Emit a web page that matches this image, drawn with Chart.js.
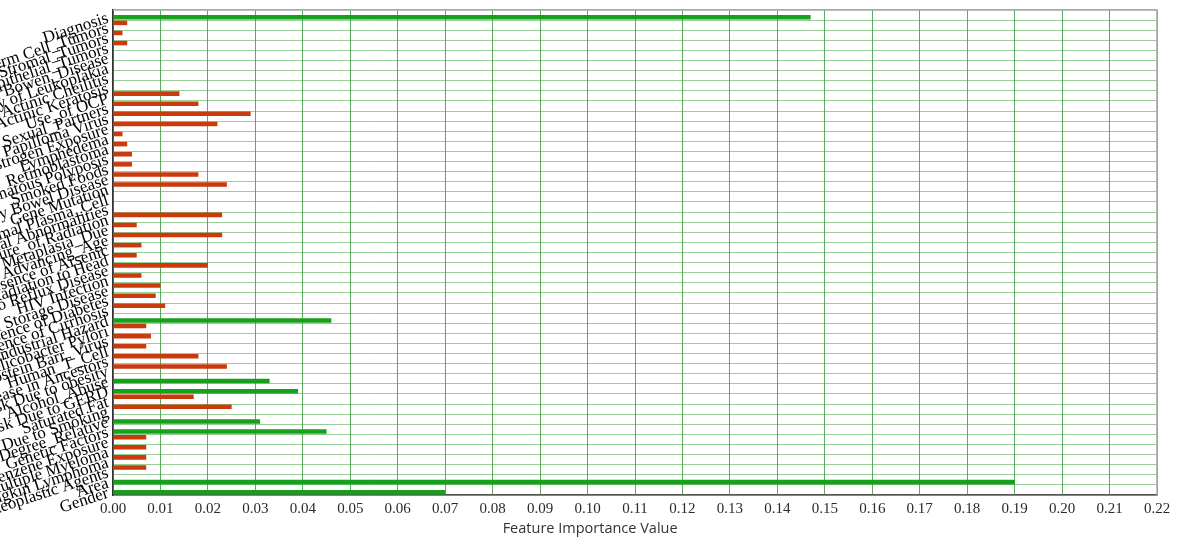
<!DOCTYPE html>
<html>
<head>
<meta charset="utf-8">
<script src="https://cdn.jsdelivr.net/npm/chart.js@4/dist/chart.umd.min.js"></script>
<style>
  html, body { margin: 0; padding: 0; background: #ffffff; overflow: hidden; }
  canvas { display: block; }
</style>
</head>
<body>
<canvas id="chart" width="1182" height="541"></canvas>
<script>
// Feature names, top to bottom
const categories = [
  "Diagnosis",
  "Germ Cell_Tumors",
  "Sex Cord Stromal_Tumors",
  "Epithelial_Tumors",
  "History of Bowen_Disease",
  "History of Leukoplakia",
  "Actinic Cheilitis",
  "Actinic Keratosis",
  "Use_of OCP",
  "Multiple Sexual_Partners",
  "Human Papilloma Virus",
  "Estrogen Exposure",
  "Lymphedema",
  "Retinoblastoma",
  "Familial Adenomatous Polyposis",
  "Smoked Foods",
  "Inflammatory Bowel Disease",
  "Gene Mutation",
  "Abnormal Plasma_Cell",
  "Chromosomal Abnormalities",
  "Exposure_of Radiation",
  "Intestinal Metaplasia_Due",
  "Advancing_Age",
  "Presence of Arsenic",
  "Radiation to Head",
  "Gastro Reflux Disease",
  "HIV Infection",
  "Iron Storage Disease",
  "Presence of Diabetes",
  "Presence of Cirrhosis",
  "Industrial Hazard",
  "Helicobacter Pylori",
  "Epstein Barr_Virus",
  "Human_T_Cell",
  "Disease in Ancestors",
  "Risk Due to obesity",
  "Alcohol_Abuse",
  "Risk Due to GERD",
  "Saturated Fat",
  "Risk Due to Smoking",
  "First Degree_Relative",
  "Genetic Factors",
  "Benzene Exposure",
  "Multiple Myeloma",
  "Non Hodgkin Lymphoma",
  "Antineoplastic Agents",
  "Area",
  "Gender"
];

// Features drawn in red
const redValues = [
  null, 0.003, 0.002, 0.003, null, null, null, null,
  0.014, 0.018, 0.029, 0.022, 0.002, 0.003, 0.004, 0.004,
  0.018, 0.024, null, null, 0.023, 0.005, 0.023, 0.006,
  0.005, 0.020, 0.006, 0.010, 0.009, 0.011, null, 0.007,
  0.008, 0.007, 0.018, 0.024, null, null, 0.017, 0.025,
  null, null, 0.007, 0.007, 0.007, 0.007, null, null
];

// Features drawn in green
const greenValues = [
  0.147, null, null, null, null, null, null, null,
  null, null, null, null, null, null, null, null,
  null, null, null, null, null, null, null, null,
  null, null, null, null, null, null, 0.046, null,
  null, null, null, null, 0.033, 0.039, null, null,
  0.031, 0.045, null, null, null, null, 0.190, 0.070
];

const xTickMin = 0;
const xTickMax = 0.22;
const xTickStep = 0.01;
const xTitle = "Feature Importance Value";

const frameAndTitle = {
  id: 'frameAndTitle',
  afterDraw(chart) {
    const { ctx, chartArea } = chart;
    ctx.save();
    // grey frame on top and right of the plot
    ctx.strokeStyle = '#a8a8a8';
    ctx.lineWidth = 1.5;
    ctx.beginPath();
    ctx.moveTo(chartArea.left, chartArea.top);
    ctx.lineTo(chartArea.right, chartArea.top);
    ctx.lineTo(chartArea.right, chartArea.bottom);
    ctx.stroke();
    // axis title
    ctx.fillStyle = '#333333';
    ctx.font = '14.5px "Open Sans", sans-serif';
    ctx.textAlign = 'center';
    ctx.textBaseline = 'middle';
    ctx.fillText(xTitle, chartArea.left + chartArea.width * 0.457, 529);
    ctx.restore();
  }
};

new Chart(document.getElementById('chart'), {
  type: 'bar',
  data: {
    labels: categories,
    datasets: [
      {
        label: 'Red group',
        data: redValues,
        backgroundColor: '#c93a0c',
        borderWidth: 0,
        categoryPercentage: 0.9,
        barPercentage: 1.0
      },
      {
        label: 'Green group',
        data: greenValues,
        backgroundColor: '#17a01b',
        borderWidth: 0,
        categoryPercentage: 0.9,
        barPercentage: 1.0
      }
    ]
  },
  options: {
    indexAxis: 'y',
    responsive: false,
    maintainAspectRatio: false,
    animation: false,
    devicePixelRatio: 1,
    layout: { padding: { top: 10, right: 25, bottom: 0, left: 0 } },
    plugins: {
      legend: { display: false },
      tooltip: { enabled: false }
    },
    scales: {
      x: {
        type: 'linear',
        min: xTickMin,
        max: xTickMax,
        ticks: {
          stepSize: xTickStep,
          autoSkip: false,
          minRotation: 0,
          maxRotation: 0,
          padding: 5,
          color: '#2a2a2a',
          font: { family: '"Liberation Serif", serif', size: 15 },
          callback: (v) => Number(v).toFixed(2)
        },
        grid: {
          color: 'rgba(40,140,40,0.75)',
          lineWidth: 1,
          drawTicks: false
        },
        border: { color: '#555555', width: 1.5 },
        afterFit(scale) { scale.height = 46; }
      },
      y: {
        type: 'category',
        ticks: {
          autoSkip: false,
          minRotation: 18,
          maxRotation: 18,
          padding: 5,
          labelOffset: 3,
          color: '#000000',
          font: { family: '"Liberation Serif", serif', size: 17 }
        },
        grid: {
          color: 'rgba(70,165,70,0.55)',
          lineWidth: 1,
          drawTicks: false
        },
        border: { color: '#333333', width: 1.5 },
        afterFit(scale) {
          scale.width = 113;
          scale.paddingTop = 0;
          scale.paddingBottom = 0;
        }
      }
    }
  },
  plugins: [frameAndTitle]
});
</script>
</body>
</html>
